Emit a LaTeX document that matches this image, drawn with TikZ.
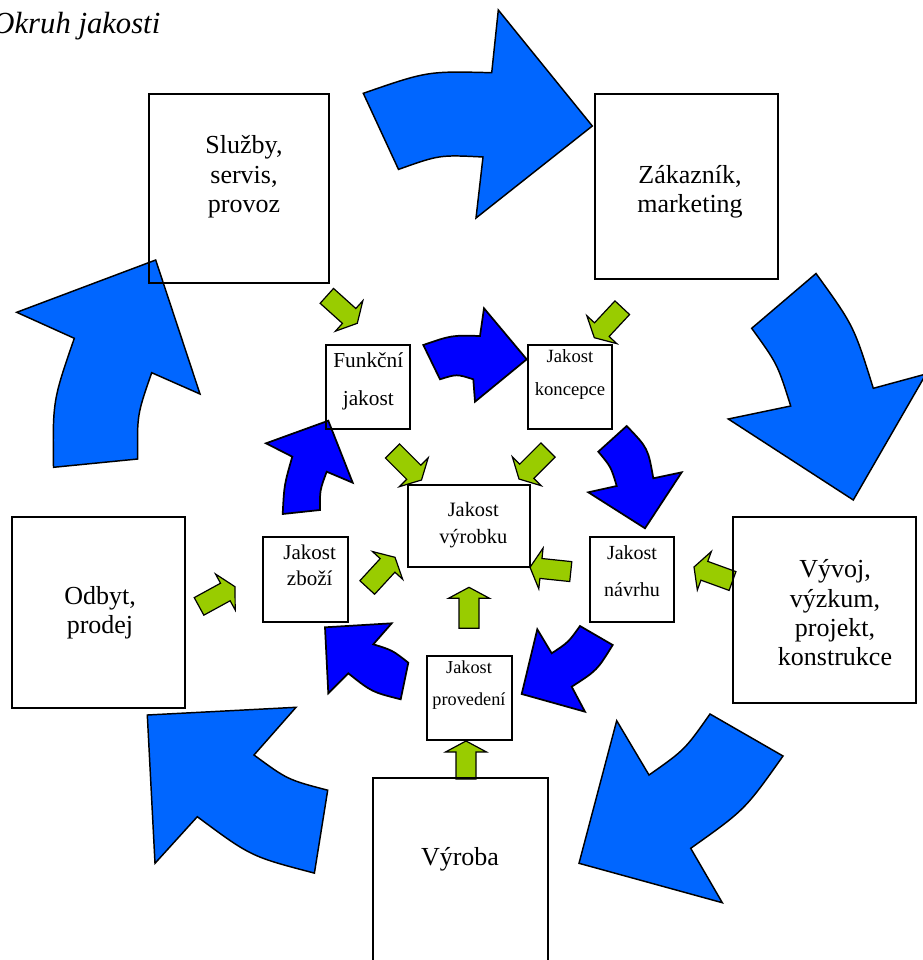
\documentclass[tikz,border=0pt]{standalone}
\usepackage{fontspec}
\setmainfont{Liberation Serif}
\definecolor{outerblue}{HTML}{0066FF}
\definecolor{innerblue}{HTML}{0000FF}
\definecolor{leafgreen}{HTML}{99CC00}
\begin{document}
\begin{tikzpicture}[x=0.75pt,y=-0.75pt,
  bigarrow/.style={fill=outerblue,draw=black,line width=1.1pt,line join=miter},
  smallarrow/.style={fill=innerblue,draw=black,line width=1.3pt,line join=miter},
  leafarrow/.style={fill=leafgreen,draw=black,line width=0.9pt,line join=miter},
  leaf/.pic={\path[leafarrow] (0,0) -- (-11,-20.5) -- (-11,-10) -- (-#1,-10) -- (-#1,10) -- (-11,10) -- (-11,20.5) -- cycle;},
  box/.style={draw=black,line width=1.1pt,inner sep=0pt,fill=none},
  bigtext/.style={align=center,font=\fontsize{19.5pt}{22pt}\selectfont},
]
\useasboundingbox (0,0) rectangle (922,960);

% title
\node[anchor=base east,font=\itshape\fontsize{23pt}{27pt}\selectfont] (title) at (165,33) {Okruh jakosti};

% outer ring of curved arrows
\path[bigarrow] (363.3,93.3) .. controls (427.6,71.05) .. (491.7,72.7) -- (498.3,10) -- (592.3,126) -- (476,218) -- (483,157) .. controls (439.5,154.8) .. (398.5,169.4) -- cycle;
\path[bigarrow] (816,273.5) -- (751.7,328.3) .. controls (777.5,364.0) .. (790.7,406) -- (728.3,419) -- (853.3,500) -- (926,374) -- (873.3,388.3) .. controls (853.7,325.6) .. (816,273.5) -- cycle;
\path[bigarrow] (710,714) -- (783,756) .. controls (744.9,809.8) .. (690.7,848.3) -- (722.3,902.7) -- (579,863.3) -- (616.7,720.7) -- (649,775) .. controls (684.8,749.8) .. (710,714) -- cycle;
\path[bigarrow] (147.3,715) -- (296,707.3) -- (254,755) .. controls (287.6,779.7) .. (327.7,790.2) -- (314.4,873.1) .. controls (250.9,856.5) .. (197.3,816.7) -- (155,863.3) -- cycle;
\path[bigarrow] (155.7,260) -- (16.7,312.3) -- (74.3,338.3) .. controls (52.7,400.9) .. (53.5,467.3) -- (137.7,459) .. controls (137.1,414.7) .. (151.7,372.7) -- (200,394) -- cycle;

% inner ring of curved arrows
\path[smallarrow] (423.3,345) .. controls (451.7,335.2) .. (480,336) -- (484,308.3) -- (526.7,359.3) -- (475,401.7) -- (473.3,379.3) .. controls (456.7,374.0) .. (440,379.3) -- cycle;
\path[smallarrow] (626.7,426) -- (598.3,451.7) .. controls (611,466.9) .. (616.7,486) -- (588.3,492.3) -- (645,528.3) -- (681.7,472.3) -- (653.3,478.3) .. controls (648,448.2) .. (626.7,426) -- cycle;
\path[smallarrow] (580,626) -- (612.7,645) .. controls (597,670.4) .. (571.7,686.7) -- (585,711.7) -- (521.7,694) -- (537.3,629.3) -- (551.7,653.3) .. controls (568.4,642.25) .. (580,626) -- cycle;
\path[smallarrow] (325,627.3) -- (391.7,623.3) -- (373.3,644.3) .. controls (392.4,650.2) .. (408.3,662.7) -- (400.7,699.3) .. controls (371.8,692) .. (348.3,673.3) -- (328.3,693.3) -- cycle;
\path[smallarrow] (328.3,420.7) -- (266,443.3) -- (292.3,456.7) .. controls (284.2,484.9) .. (282.7,514) -- (320,510) .. controls (319.8,490.25) .. (326.7,471.7) -- (352.7,482.7) -- cycle;

% green block arrows (tips)
\coordinate (g1) at (357.3,323.3);
\coordinate (g2) at (594.3,337.7);
\coordinate (g3) at (421.5,480);
\coordinate (g4) at (519,479);
\coordinate (g5) at (530,567.3);
\coordinate (g6) at (395,557.3);
\coordinate (g7) at (235,586.7);
\coordinate (g8) at (469,587.3);
\coordinate (g9) at (694,567);
\coordinate (g10) at (466,741);
\pic[rotate=-42] at (g1) {leaf=41};
\pic[rotate=-133] at (g2) {leaf=41};
\pic[rotate=-45] at (g3) {leaf=41};
\pic[rotate=-135] at (g4) {leaf=41};
\pic[rotate=-186] at (g5) {leaf=41};
\pic[rotate=47.4] at (g6) {leaf=41};
\pic[rotate=28.7] at (g7) {leaf=41};
\pic[rotate=90] at (g8) {leaf=41};
\pic[rotate=-200] at (g9) {leaf=41};
\pic[rotate=90] at (g10) {leaf=38};

% outer boxes
\node[box,minimum width=135pt,minimum height=141.75pt] (sluzby) at (239,188.5) {};
\node[box,minimum width=137.25pt,minimum height=138.75pt] (zakaznik) at (686.5,186.5) {};
\node[box,minimum width=129.75pt,minimum height=143.25pt] (odbyt) at (98.5,612.5) {};
\node[box,minimum width=137.25pt,minimum height=139.5pt] (vyvoj) at (824.5,610) {};
\node[box,minimum width=131.25pt,minimum height=142.5pt] (vyroba) at (460.5,873) {};

% inner boxes
\node[box,minimum width=63pt,minimum height=63pt] (funkcni) at (368,387) {};
\node[box,minimum width=63pt,minimum height=63pt] (koncepce) at (570,387) {};
\node[box,minimum width=91.5pt,minimum height=61.5pt] (vyrobek) at (469,526) {};
\node[box,minimum width=63.75pt,minimum height=63.75pt] (zbozi) at (305.5,579.5) {};
\node[box,minimum width=63pt,minimum height=63.75pt] (navrh) at (632,579.5) {};
\node[box,minimum width=63.75pt,minimum height=63pt] (provedeni) at (469.5,698) {};

% labels
\node[bigtext] (tsluzby) at (244,177) {Služby,\\servis,\\provoz};
\node[bigtext] (tzakaznik) at (690,192) {Zákazník,\\marketing};
\node[bigtext] (todbyt) at (100,613) {Odbyt,\\prodej};
\node[bigtext] (tvyvoj) at (835,613) {Vývoj,\\výzkum,\\projekt,\\konstrukce};
\node[bigtext] (tvyroba) at (460,859) {Výroba};

\node[align=center,font=\fontsize{16pt}{28.5pt}\selectfont] (tfunkcni) at (368.3,381) {Funkční\\jakost};
\node[align=center,font=\fontsize{14pt}{24.75pt}\selectfont] (tkoncepce) at (570,375) {Jakost\\koncepce};
\node[align=center,font=\fontsize{15.3pt}{20.25pt}\selectfont] (tvyrobek) at (473.3,525) {Jakost\\výrobku};
\node[align=center,font=\fontsize{15.75pt}{19.5pt}\selectfont] (tzbozi) at (309.7,565) {Jakost\\zboží};
\node[align=center,font=\fontsize{15pt}{27.75pt}\selectfont] (tnavrh) at (632,571) {Jakost\\návrhu};
\node[align=center,font=\fontsize{13.7pt}{24pt}\selectfont] (tprovedeni) at (469,685) {Jakost\\provedení};
\end{tikzpicture}
\end{document}
